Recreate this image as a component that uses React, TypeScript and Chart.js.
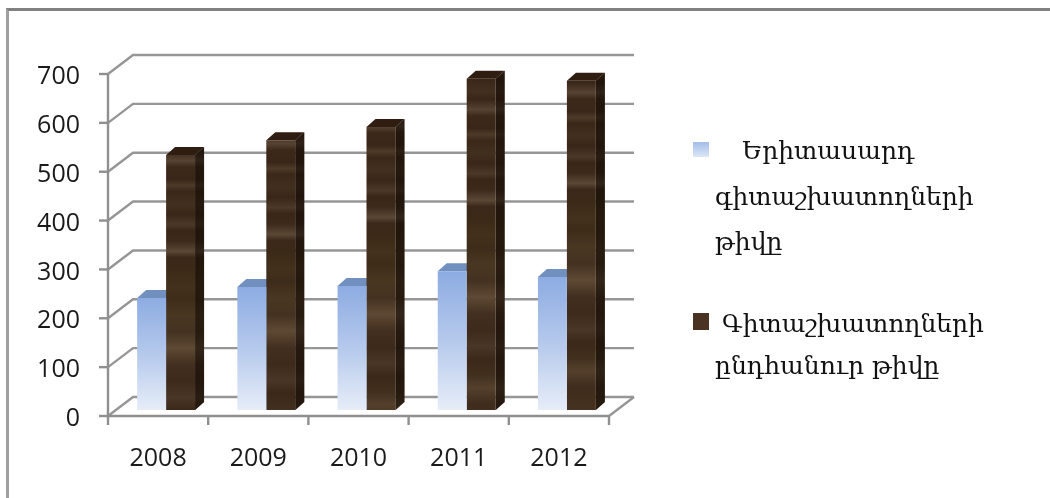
import React, { useEffect, useRef } from "react";
import { Chart, registerables } from "chart.js";

Chart.register(...registerables);

const years = ["2008", "2009", "2010", "2011", "2012"];
const youngResearchers = [229, 252, 254, 284, 272];
const allResearchers = [522, 552, 579, 678, 674];
const youngLabel = "Երիտասարդ գիտաշխատողների թիվը";
const allLabel = "Գիտաշխատողների ընդհանուր թիվը";
const youngLegendLines = ["Երիտասարդ", "գիտաշխատողների", "թիվը"];
const allLegendLines = ["Գիտաշխատողների", "ընդհանուր թիվը"];

const GRID = "#969696";
const AXIS = "#8f8f8f";
const DEPTH_X = 9;
const DEPTH_Y = 8;

// wood grain: [position, brightness step]
const woodStops: [number, string][] = [
  [0, "#3a2618"], [0.02, "#46301f"], [0.035, "#3a2618"], [0.06, "#402b1b"], [0.075, "#4b3624"],
  [0.09, "#3b2718"], [0.12, "#38241a"], [0.135, "#4a3525"], [0.15, "#3a2618"], [0.18, "#43301f"],
  [0.2, "#3a2618"], [0.225, "#574332"], [0.24, "#3d2919"], [0.27, "#3a2618"], [0.285, "#4e3a28"],
  [0.3, "#3b2718"], [0.33, "#42301f"], [0.355, "#3a2618"], [0.38, "#4b3827"], [0.395, "#3a2617"],
  [0.42, "#3d2a1b"], [0.445, "#5a4735"], [0.46, "#3b2819"], [0.49, "#3c2a18"], [0.53, "#43311d"],
  [0.56, "#3e2c1a"], [0.6, "#4a3722"], [0.64, "#443120"], [0.68, "#5e4934"], [0.72, "#432f1f"],
  [0.76, "#3d2a1b"], [0.8, "#4a3626"], [0.83, "#3b2818"], [0.87, "#42301f"], [0.9, "#54402c"],
  [0.94, "#402c1c"], [1, "#46321f"],
];

function lightFill(c: any) {
  const { chart } = c;
  if (!chart.chartArea || c.raw === undefined) return "#a9c0e6";
  const y = chart.scales.y;
  const g = chart.ctx.createLinearGradient(0, y.getPixelForValue(c.raw), 0, y.getPixelForValue(0));
  g.addColorStop(0, "#8dace2");
  g.addColorStop(0.5, "#b5c9ec");
  g.addColorStop(1, "#e6edf8");
  return g;
}

function woodGradient(chart: any, index: number) {
  const a = chart.chartArea;
  const shift = index * 17;
  const g = chart.ctx.createLinearGradient(0, a.top - shift, 0, a.bottom + 70 - shift);
  woodStops.forEach(([o, col]) => g.addColorStop(o, col));
  return g;
}

function woodFill(c: any) {
  if (!c.chart.chartArea) return "#3e2a1b";
  return woodGradient(c.chart, c.dataIndex ?? 0);
}

const walls = {
  id: "walls",
  beforeDatasetsDraw(chart: any) {
    const { ctx, chartArea: a, scales } = chart;
    const yS = scales.y;
    const ticks = yS.ticks.map((t: any) => t.value);
    const line = (pts: number[][], color: string, w: number) => {
      ctx.beginPath();
      pts.forEach(([x, y], i) => (i ? ctx.lineTo(x, y) : ctx.moveTo(x, y)));
      ctx.strokeStyle = color;
      ctx.lineWidth = w;
      ctx.stroke();
    };
    ctx.save();
    const fx = -8, fy = 6, bx = 17, by = -13;
    ticks.forEach((v: number) => {
      const p = yS.getPixelForValue(v);
      line([[a.left + fx, p + fy], [a.left + bx, p + by], [a.right + bx, p + by]], GRID, 2.4);
      line([[a.left + fx - 9, p + fy], [a.left + fx, p + fy]], AXIS, 2.4);
    });
    line([[a.right + fx, a.bottom + fy], [a.right + bx, a.bottom + by]], GRID, 2.4);
    line([[a.left + fx, yS.getPixelForValue(700) + fy], [a.left + fx, a.bottom + fy], [a.right + fx, a.bottom + fy]], AXIS, 2.4);
    const step = (a.right - a.left) / years.length;
    for (let i = 0; i <= years.length; i++) {
      const x = a.left + fx + i * step;
      line([[x, a.bottom + fy], [x, a.bottom + fy + 9]], AXIS, 2.4);
    }
    // 3D faces of the bars, from the bar elements the library laid out
    const faces = [
      { index: 0, top: "#7290bf", wood: false },
      { index: 1, top: "#2e1d10", wood: true },
    ];
    faces.forEach(({ index, top, wood }) => {
      chart.getDatasetMeta(index).data.forEach((b: any, i: number) => {
        const l = b.x - b.width / 2, r = b.x + b.width / 2, t = b.y, base = b.base;
        const sidePath = () => {
          ctx.beginPath();
          ctx.moveTo(r, t);
          ctx.lineTo(r + DEPTH_X, t - DEPTH_Y);
          ctx.lineTo(r + DEPTH_X, base - DEPTH_Y);
          ctx.lineTo(r, base);
          ctx.closePath();
        };
        if (wood) {
          ctx.fillStyle = woodGradient(chart, i);
          sidePath();
          ctx.fill();
          ctx.fillStyle = "rgba(15,8,2,0.55)";
          sidePath();
          ctx.fill();
        } else {
          ctx.fillStyle = "#7f9cc8";
          sidePath();
          ctx.fill();
        }
        ctx.fillStyle = top;
        ctx.beginPath();
        ctx.moveTo(l, t);
        ctx.lineTo(l + DEPTH_X, t - DEPTH_Y);
        ctx.lineTo(r + DEPTH_X, t - DEPTH_Y);
        ctx.lineTo(r, t);
        ctx.closePath();
        ctx.fill();
      });
    });
    ctx.restore();
  },
};

const legendFont = '25px "DejaVu Serif", "Noto Sans", serif';

const sideLegend = {
  id: "sideLegend",
  afterDraw(chart: any) {
    const { ctx } = chart;
    ctx.save();
    ctx.textBaseline = "alphabetic";
    ctx.textAlign = "left";
    const g = ctx.createLinearGradient(0, 142, 0, 157);
    g.addColorStop(0, "#a3bde8");
    g.addColorStop(1, "#dce6f6");
    ctx.fillStyle = g;
    ctx.fillRect(693, 142, 16, 15);
    ctx.fillStyle = "#4a3322";
    ctx.fillRect(693, 313, 16, 17);
    ctx.fillStyle = "#111111";
    const text = (s: string, x: number, y: number) => {
      ctx.font = legendFont;
      ctx.fillText(s, x, y);
    };
    text(youngLegendLines[0], 742, 159);
    text(youngLegendLines[1], 715, 205);
    text(youngLegendLines[2], 715, 250);
    text(allLegendLines[0], 722, 332);
    text(allLegendLines[1], 715, 374);
    ctx.restore();
  },
};

export default function App() {
  const ref = useRef<HTMLCanvasElement>(null);
  useEffect(() => {
    const chart = new Chart(ref.current!, {
      type: "bar",
      data: {
        labels: years,
        datasets: [
          { label: youngLabel, data: youngResearchers, backgroundColor: lightFill, categoryPercentage: 0.578, barPercentage: 1 },
          { label: allLabel, data: allResearchers, backgroundColor: woodFill, categoryPercentage: 0.578, barPercentage: 1 },
        ],
      },
      options: {
        animation: false,
        responsive: false,
        devicePixelRatio: 1,
        layout: { padding: { left: 0, top: 68, right: 433, bottom: 0 } },
        plugins: { legend: { display: false }, tooltip: { enabled: false } },
        scales: {
          x: {
            grid: { display: false },
            border: { display: false },
            afterFit: (s: any) => { s.height = 88; },
            ticks: {
              padding: 26,
              labelOffset: -8,
              maxRotation: 0,
              color: "#1a1a1a",
              font: { family: '"Open Sans"', size: 25 },
            },
          },
          y: {
            min: 0,
            max: 700,
            grid: { display: false },
            border: { display: false },
            afterFit: (s: any) => { s.width = 116; },
            ticks: {
              stepSize: 100,
              padding: 28,
              labelOffset: 9,
              color: "#1a1a1a",
              font: { family: '"Open Sans"', size: 25 },
            },
          },
        },
      },
      plugins: [walls, sideLegend],
    } as any);
    return () => chart.destroy();
  }, []);
  return (
    <div style={{ position: "absolute", left: 0, top: 0, width: 1050, height: 498, overflow: "hidden", background: "#fff" }}>
      <canvas ref={ref} width={1050} height={498} style={{ display: "block" }} />
      <div style={{ position: "absolute", left: 6, top: 8, width: 1044, height: 490, boxSizing: "border-box", borderTop: "3px solid #808080", borderLeft: "3px solid #a0a0a0" }} />
    </div>
  );
}
